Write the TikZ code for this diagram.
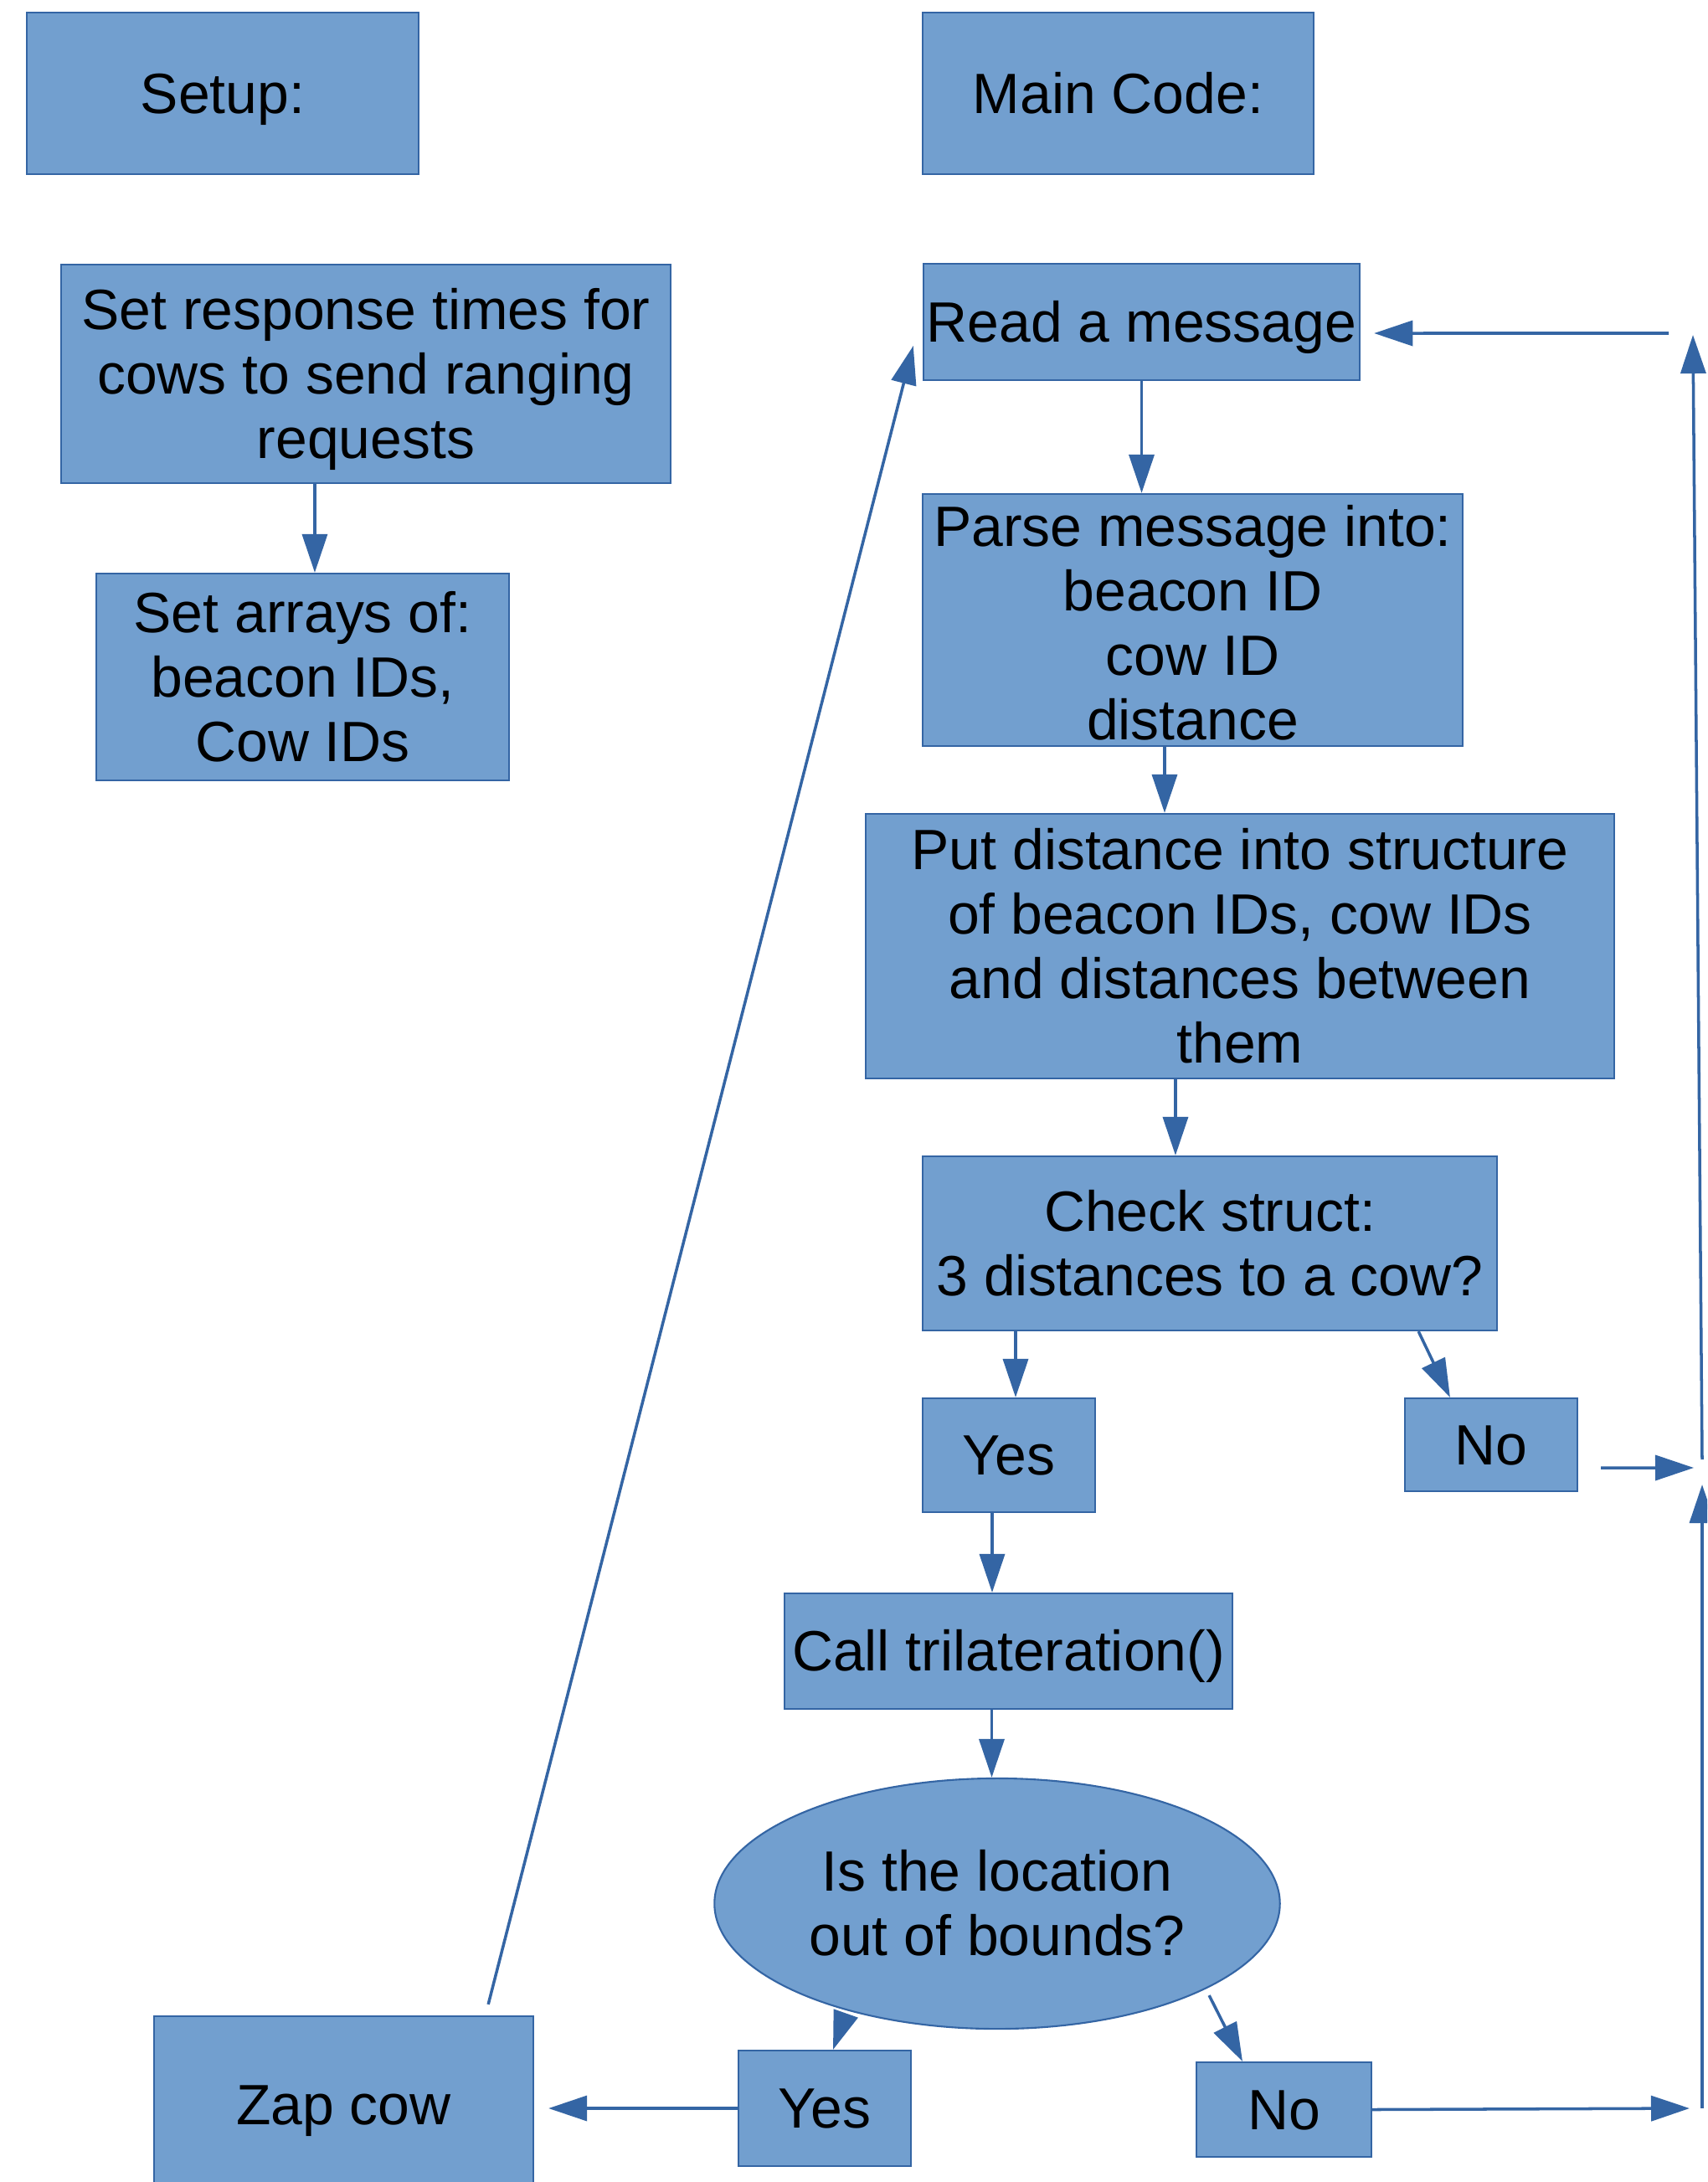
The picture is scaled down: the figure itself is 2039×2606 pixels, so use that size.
\documentclass[tikz,border=0pt]{standalone}
\usepackage{fontspec}
\setmainfont{Liberation Sans}
\usetikzlibrary{arrows.meta,shapes.geometric}
\definecolor{boxfill}{HTML}{729FCF}
\definecolor{boxline}{HTML}{3465A4}
\newcommand\ls{\rule[-0.212em]{0pt}{1.117em}}
\newcommand\lsb{\rule[-0.1em]{0pt}{0.1em}}
\tikzset{
  fbox/.style={draw=boxline, fill=boxfill, line width=0.6pt, text=black, align=center,
    inner sep=0pt, font=\fontsize{19.3}{21.9}\selectfont},
  fell/.style={fbox, ellipse},
  conn/.style={draw=boxline, line width=1pt, -{Triangle[length=0.46cm,width=0.3cm]}, boxline}
}
\begin{document}
\begin{tikzpicture}[x=0.01cm,y=-0.01cm]
\clip (0,0) rectangle (2039,2606);
\useasboundingbox (0,0) rectangle (2039,2606);
\fill[white] (0,0) rectangle (2039,2606);

% nodes
\node[fbox, minimum width=4.68cm, minimum height=1.93cm] (setup) at (266,111.5) {\ls Setup:\ls};
\node[fbox, minimum width=4.67cm, minimum height=1.93cm] (main) at (1335.5,111.5) {\ls Main Code:\ls};
\node[fbox, minimum width=7.28cm, minimum height=2.61cm] (setresp) at (437,446.5)
  {\ls Set response times for\\cows to send ranging\\requests\ls};
\node[fbox, minimum width=4.93cm, minimum height=2.47cm] (setarr) at (361.5,808.5)
  {\ls Set arrays of:\\beacon IDs,\\Cow IDs\ls};
\node[fbox, minimum width=5.21cm, minimum height=1.39cm] (read) at (1363.5,384.5) {\ls Read a message\ls};
\node[fbox, minimum width=6.45cm, minimum height=3.01cm] (parse) at (1424.5,740.5)
  {\ls Parse message into:\\beacon ID\\cow ID\\distance\lsb};
\node[fbox, minimum width=8.94cm, minimum height=3.16cm] (put) at (1481,1130)
  {\ls Put distance into structure\\of beacon IDs, cow IDs\\and distances between\\them\ls};
\node[fbox, minimum width=6.86cm, minimum height=2.08cm] (check) at (1445,1485)
  {\ls Check struct:\\3 distances to a cow?\ls};
\node[fbox, minimum width=2.06cm, minimum height=1.36cm] (yesa) at (1205,1738) {\ls Yes\ls};
\node[fbox, minimum width=2.06cm, minimum height=1.11cm] (noa) at (1781,1725.5) {\ls No\ls};
\node[fbox, minimum width=5.35cm, minimum height=1.38cm] (call) at (1204.5,1972) {\ls Call trilateration()\ls};
\node[fell, minimum width=6.75cm, minimum height=2.99cm] (ell) at (1191,2273.5)
  {\ls Is the location\\out of bounds?\ls};
\node[fbox, minimum width=2.06cm, minimum height=1.38cm] (yesb) at (985,2518) {\ls Yes\ls};
\node[fbox, minimum width=2.09cm, minimum height=1.13cm] (nob) at (1533.5,2519.5) {\ls No\ls};
\node[fbox, minimum width=4.53cm, minimum height=2.12cm] (zap) at (410.5,2514) {\ls Zap cow\ls};

% free ends on the right
\coordinate (rb) at (2033,2518);
\coordinate (rm) at (2033,1773);
\coordinate (rm2) at (2033,1743);
\coordinate (rt) at (2022,400);
\coordinate (ht) at (1993,398);
\coordinate (noout) at ([shift={(0.27cm,-0.275cm)}]noa.east);
\coordinate (rj) at (2023,1753);

% connectors
\draw[conn] ([xshift=-0.61cm]setresp.south) -- ([xshift=-0.61cm]setresp.south |- setarr.north);
\draw[conn] (read.south) -- (read.south |- parse.north);
\draw[conn] ([xshift=-0.335cm]parse.south) -- ([xshift=-0.335cm]parse.south |- put.north);
\draw[conn] ([xshift=-0.77cm]put.south) -- ([xshift=-0.77cm]put.south |- check.north);
\draw[conn] ([xshift=0.08cm]yesa.north |- check.south) -- ([xshift=0.08cm]yesa.north);
\draw[conn] ([xshift=-0.95cm]check.south east) -- ([xshift=0.55cm]noa.north west);
\draw[conn] (noout) -- (rj);
\draw[conn] (rb) -- (rm);
\draw[conn] (rm2) -- (rt);
\draw[conn] (ht) -- ([shift={(0.16cm,-0.135cm)}]read.east);
\draw[conn] ([xshift=-0.2cm]yesa.south) -- ([xshift=-0.2cm]yesa.south |- call.north);
\draw[conn] ([xshift=-0.2cm]call.south) -- ([xshift=-0.2cm]call.south |- ell.north);
\draw[conn] ([shift={(-1.81cm,-1.32cm)}]ell.center) -- ([xshift=0.1cm]yesb.north);
\draw[conn] ([shift={(2.53cm,-1.095cm)}]ell.center) -- ([xshift=-0.495cm]nob.north);
\draw[conn] (nob.east) -- ([xshift=-0.15cm]rb);
\draw[conn] (yesb.west) -- ([xshift=0.17cm]zap.east |- yesb.west);
\draw[conn] ([shift={(-0.55cm,0.13cm)}]zap.north east) -- ([shift={(-0.11cm,-0.285cm)}]read.west);
\end{tikzpicture}
\end{document}
